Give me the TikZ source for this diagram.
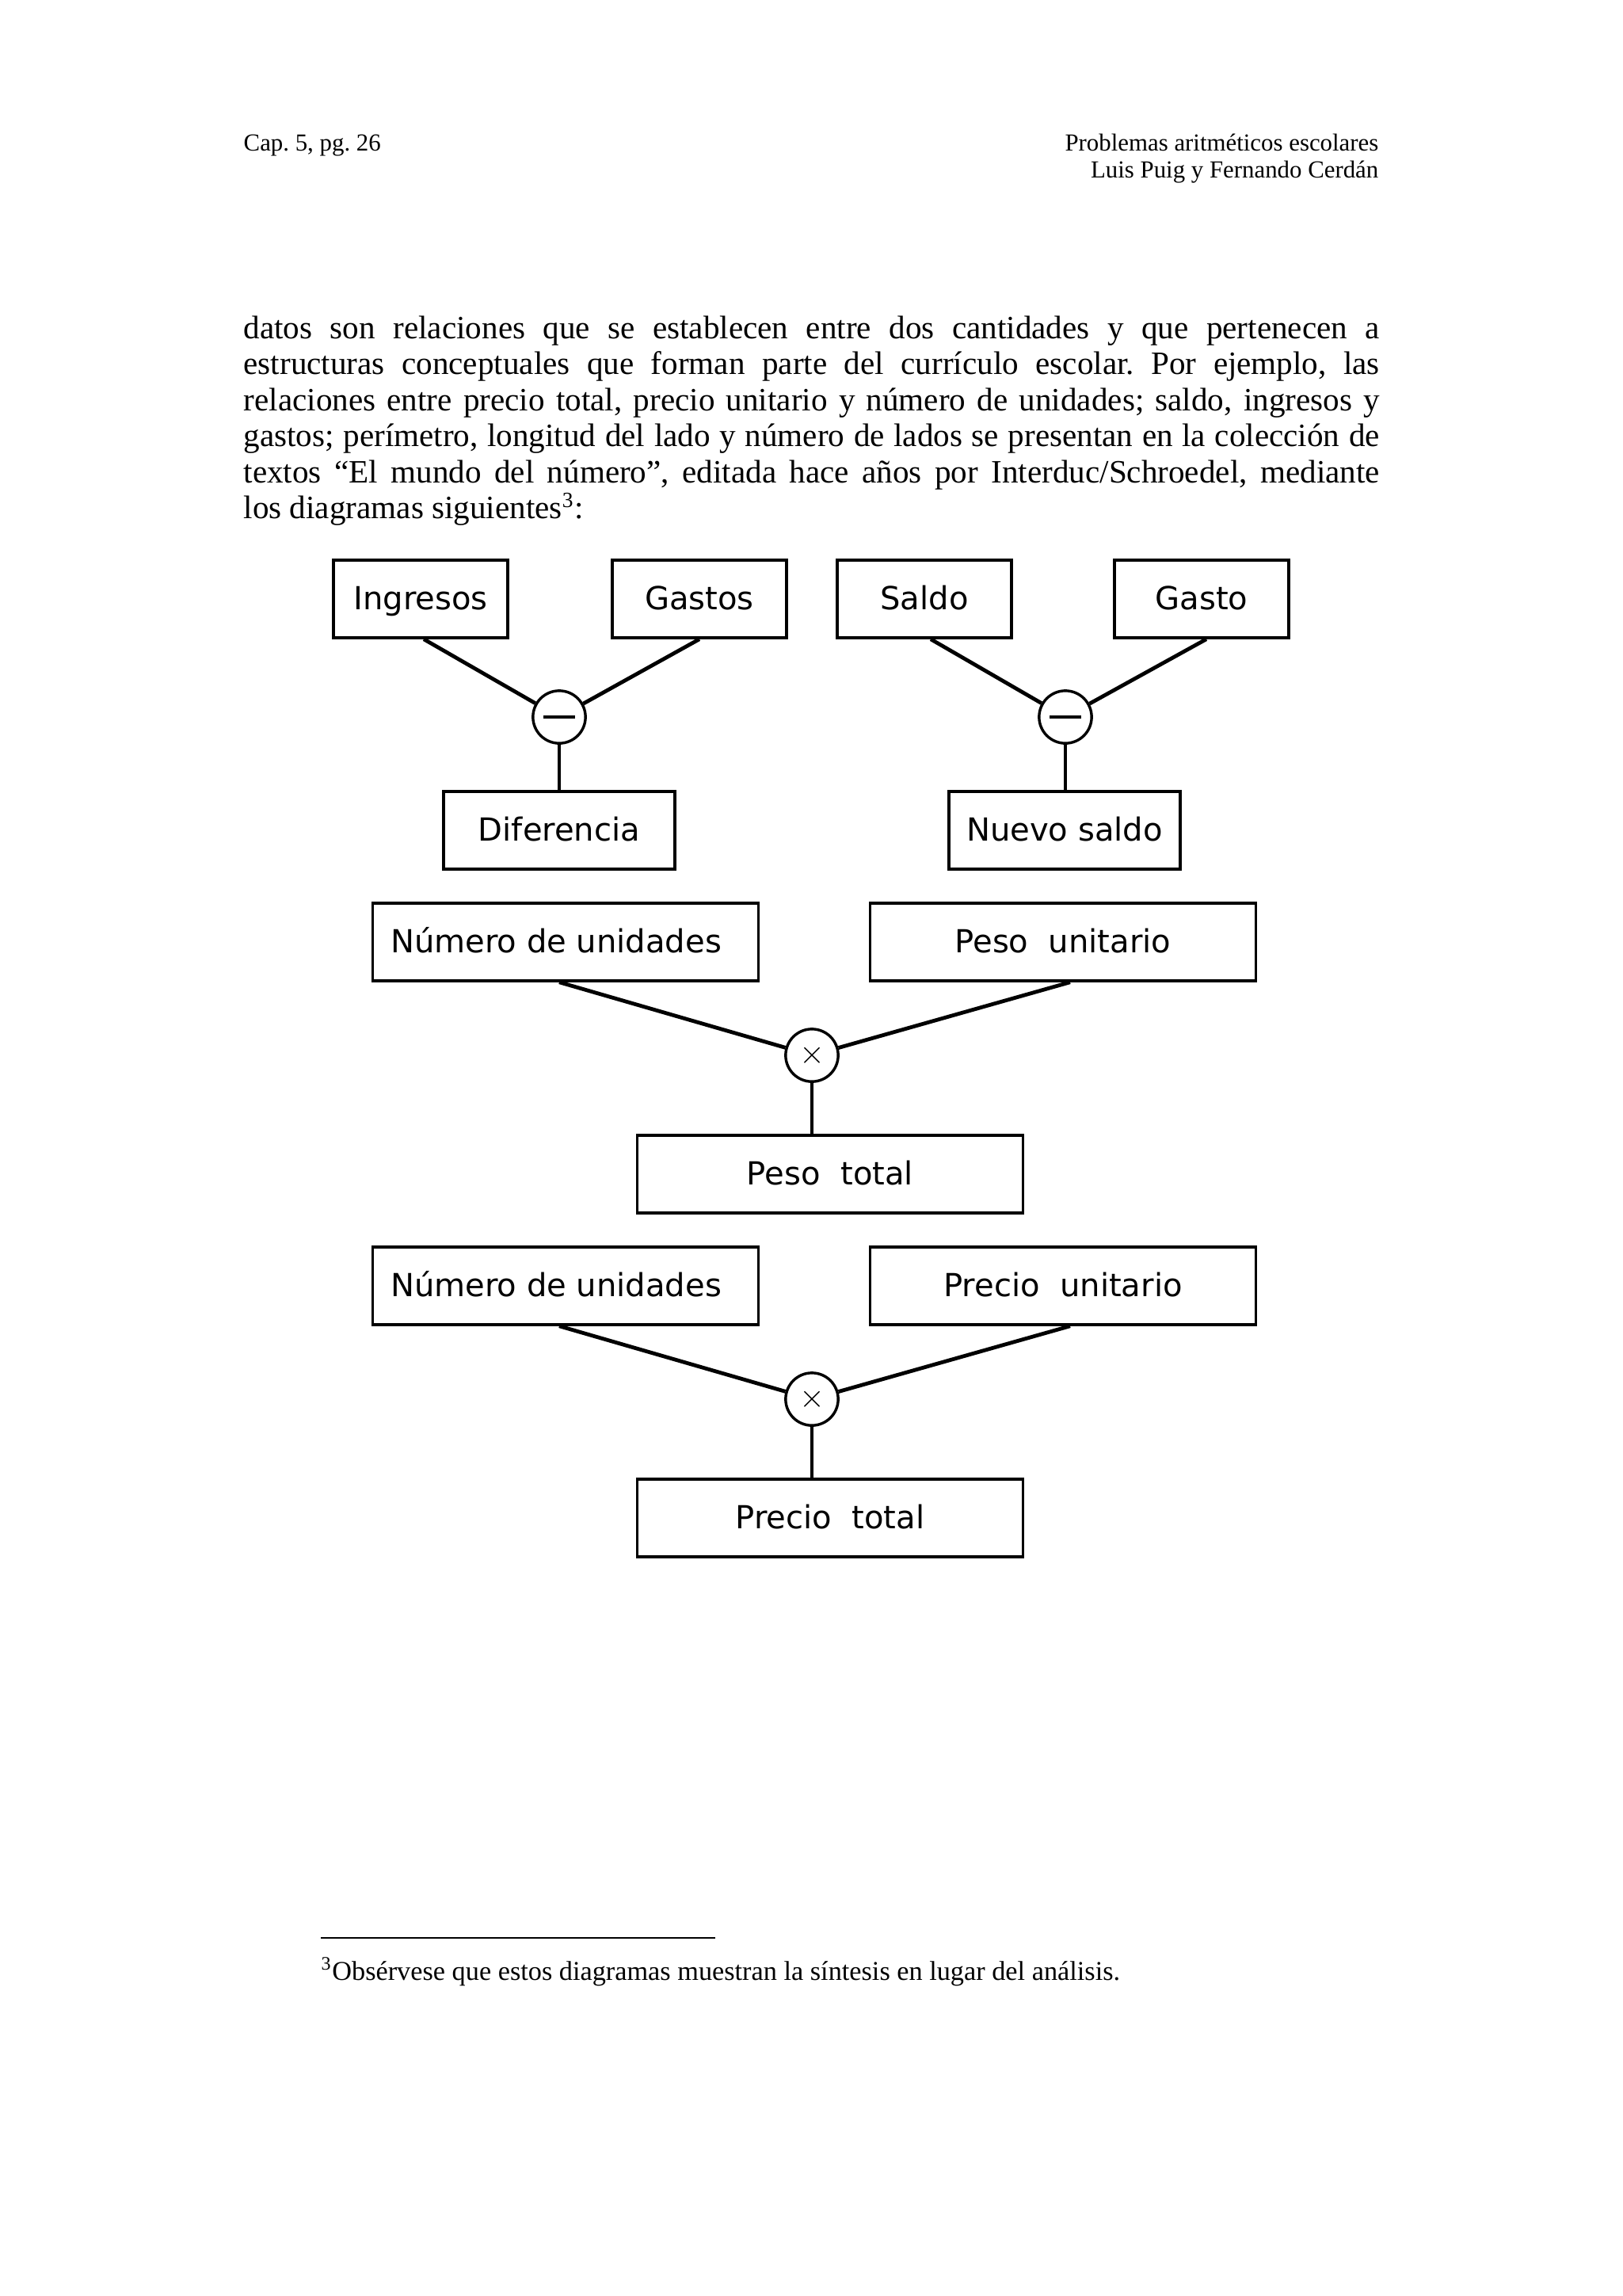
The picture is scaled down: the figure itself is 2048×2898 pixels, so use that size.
\documentclass[tikz,border=0pt]{standalone}
\usepackage{fontspec}
\setmainfont{Liberation Serif}
\newfontfamily\diagfont{DejaVu Sans}
\usetikzlibrary{calc}
\tikzset{
	caja/.style={draw, line width=1pt, inner sep=0pt, minimum height=10.05mm, text height=10pt, text depth=2.4pt, font=\diagfont\fontsize{11.7}{14}\selectfont},
	operador/.style={draw, circle, line width=1pt, inner sep=0pt, minimum size=6.8mm, font=\fontsize{12}{14}\selectfont},
	rama/.style={line width=1.4pt},
	tallo/.style={line width=1pt}
}

\begin{document}
\frenchspacing
\begin{tikzpicture}[x=0.1025390625mm, y=-0.1025390625mm]
			%%%%% START %%%%%
			
			\fill[white] (0, 0) rectangle (2048, 2898);
			\useasboundingbox (0, 0) rectangle (2048, 2898);
			
			% cabecera
			\node[anchor=base west, inner sep=0pt, font=\fontsize{9}{10.5}\selectfont] (cap) at (307, 190) {Cap. 5, pg. 26};
			\node[anchor=base east, inner sep=0pt, font=\fontsize{9}{10.5}\selectfont] (titulo) at (1741, 190) {Problemas aritméticos escolares};
			\node[anchor=base east, inner sep=0pt, font=\fontsize{9}{10.5}\selectfont] (autores) at (1741, 224) {Luis Puig y Fernando Cerdán};
			
			% texto
			\node[anchor=base west, inner sep=0pt, text width=147.05mm, align=justify, font=\fontsize{12}{13.3}\selectfont] (parrafo) at (307, 427) {datos son relaciones que se establecen entre dos cantidades y que pertenecen a\linebreak
			estructuras conceptuales que forman parte del currículo escolar. Por ejemplo, las\linebreak
			relaciones entre precio total, precio unitario y número de unidades; saldo, ingresos y\linebreak
			gastos; perímetro, longitud del lado y número de lados se presentan en la colección de\linebreak
			textos “El mundo del número”, editada hace años por Interduc/Schroedel, mediante\linebreak
			los diagramas siguientes\textsuperscript{3}:};
			
			% ingresos - gastos
			\node[caja, minimum width=22.56mm] (ingr) at (531, 756) {Ingresos};
			\node[caja, minimum width=22.56mm] (gast) at (883, 756) {Gastos};
			\node[operador] (resta1) at (706, 905) {\rule{4.1mm}{0.34mm}};
			\node[caja, minimum width=29.94mm] (dif) at (706, 1048) {Diferencia};
			\draw[rama] ($(ingr.south)+(4, 0)$) -- (resta1);
			\draw[rama] (gast.south) -- (resta1);
			\draw[tallo] (resta1) -- (dif);
			
			% saldo - gasto
			\node[caja, minimum width=22.56mm] (sald) at (1167, 756) {Saldo};
			\node[caja, minimum width=22.56mm] (gasto) at (1517, 756) {Gasto};
			\node[operador] (resta2) at (1345, 905) {\rule{4.1mm}{0.34mm}};
			\node[caja, minimum width=29.94mm] (nuevo) at (1344, 1048) {Nuevo saldo};
			\draw[rama] ($(sald.south)+(8, 0)$) -- (resta2);
			\draw[rama] ($(gasto.south)+(6, 0)$) -- (resta2);
			\draw[tallo] (resta2) -- (resta2 |- nuevo.north);
			
			% peso
			\node[caja, minimum width=49.94mm] (unid1) at (714, 1189) {\hspace*{-7pt}Número de unidades};
			\node[caja, minimum width=49.94mm] (pesou) at (1342, 1189) {Peso\ \ unitario};
			\node[operador] (por1) at (1025, 1332) {$\times$};
			\node[caja, minimum width=49.94mm] (pesot) at (1048, 1482) {Peso\ \ total};
			\draw[rama] ($(unid1.south)+(-8, 0)$) -- (por1);
			\draw[rama] ($(pesou.south)+(9, 0)$) -- (por1);
			\draw[tallo] (por1) -- (por1 |- pesot.north);
			
			% precio
			\node[caja, minimum width=49.94mm] (unid2) at (714, 1623) {\hspace*{-7pt}Número de unidades};
			\node[caja, minimum width=49.94mm] (preciou) at (1342, 1623) {Precio\ \ unitario};
			\node[operador] (por2) at (1025, 1766) {$\times$};
			\node[caja, minimum width=49.94mm] (preciot) at (1048, 1916) {Precio\ \ total};
			\draw[rama] ($(unid2.south)+(-8, 0)$) -- (por2);
			\draw[rama] ($(preciou.south)+(9, 0)$) -- (por2);
			\draw[tallo] (por2) -- (por2 |- preciot.north);
			
			% nota
			\draw[line width=0.6pt] (405, 2446) -- (903, 2446);
			\node[anchor=base west, inner sep=0pt, font=\fontsize{10}{12}\selectfont] (nota) at (405, 2499) {\textsuperscript{3}Obsérvese que estos diagramas muestran la síntesis en lugar del análisis.};
			
			%%%%% END %%%%%
		\end{tikzpicture}
\end{document}
